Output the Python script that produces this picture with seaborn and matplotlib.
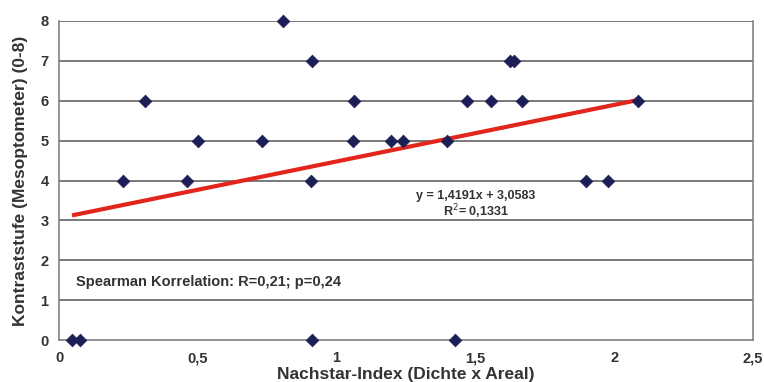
import pandas as pd
import matplotlib.pyplot as plt
import seaborn as sns

# Nachstar-Index vs. Kontraststufe
nachstar = [0.807, 0.911, 1.625, 1.640,
            0.31, 1.063, 1.47, 1.556, 1.668, 2.086,
            0.50, 0.731, 1.059, 1.196, 1.239, 1.398,
            0.23, 0.461, 0.908, 1.898, 1.978,
            0.047, 0.076, 0.911, 1.427]
kontrast = [8, 7, 7, 7,
            6, 6, 6, 6, 6, 6,
            5, 5, 5, 5, 5, 5,
            4, 4, 4, 4, 4,
            0, 0, 0, 0]
slope = 1.4191
intercept = 3.0583
x_ticks = [0, 0.5, 1, 1.5, 2, 2.5]
x_tick_labels = ["0", "0,5", "1", "1,5", "2", "2,5"]
y_ticks = [0, 1, 2, 3, 4, 5, 6, 7, 8]

df = pd.DataFrame({"x": nachstar, "y": kontrast})

sns.set_style("white")
plt.rcParams['font.family'] = ['Liberation Sans', 'DejaVu Sans']

fig = plt.figure(figsize=(7.64, 3.82), dpi=100)
ax = fig.add_axes([59 / 764, 1 - 340 / 382, (753 - 59) / 764, (340 - 21) / 382])

# horizontal grid
for yv in y_ticks[1:]:
    ax.axhline(yv, color="#555555", lw=1.1, zorder=1)

# trend line
xs = [min(nachstar), max(nachstar)]
ys = [slope * v + intercept for v in xs]
ax.plot(xs, ys, color="#e3261c", lw=3, zorder=2, solid_capstyle="butt")

sns.scatterplot(data=df, x="x", y="y", marker="D", s=42, color="#1b1f55",
                edgecolor="#1b1f55", linewidth=0.5, ax=ax, zorder=3, clip_on=False)

ax.set_xlim(0, 2.5)
ax.set_ylim(0, 8)
ax.set_xticks(x_ticks)
ax.set_xticklabels(x_tick_labels)
ax.set_yticks(y_ticks)
ax.tick_params(axis="both", labelsize=10.5, colors="#333333", length=4, width=1)
ax.tick_params(axis="x", length=2, pad=6)
for lab in ax.get_xticklabels() + ax.get_yticklabels():
    lab.set_fontweight("bold")

for side in ["left", "bottom", "right"]:
    ax.spines[side].set_color("#777777")
    ax.spines[side].set_linewidth(1.1)
ax.spines["top"].set_visible(False)

ax.set_xlabel("Nachstar-Index (Dichte x Areal)", fontsize=12.5, fontweight="bold",
              color="#333333", labelpad=1)
ax.set_ylabel("Kontraststufe (Mesoptometer) (0-8)", fontsize=12.5, fontweight="bold",
              color="#333333", labelpad=9)

ax.text(0.06, 1.45, "Spearman Korrelation: R=0,21; p=0,24", fontsize=10.5,
        fontweight="bold", color="#333333", va="center")
ax.text(1.50, 3.60, "y = 1,4191x + 3,0583", fontsize=9, fontweight="bold",
        color="#333333", ha="center", va="center")
ax.text(1.50, 3.22, "R$^2$= 0,1331", fontsize=9, fontweight="bold",
        color="#333333", ha="center", va="center")

plt.savefig("out.png", dpi=100)
